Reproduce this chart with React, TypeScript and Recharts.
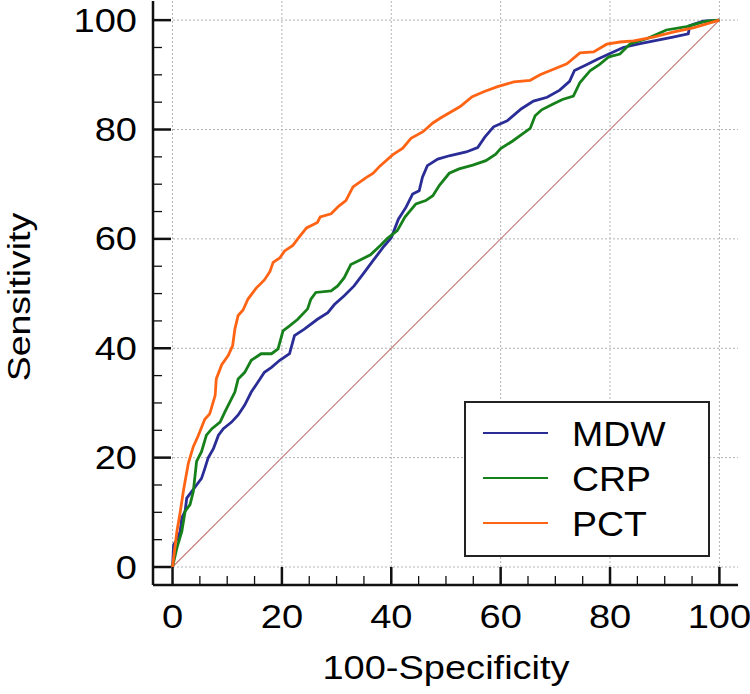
import React from 'react';
import { LineChart, Line, XAxis, YAxis, CartesianGrid, Legend } from 'recharts';

// ROC curves, values (100-Specificity vs Sensitivity)
const mdwFpr = [0, 0.2, 0.8, 1.4, 1.7, 2.3, 2.6, 3.5, 4.4, 5.3, 5.9, 6.5, 7.5, 8.4, 9.3, 10.8, 12, 13.2, 14.4, 15.6, 16.8, 18.1, 19.6, 21.4, 22.3, 24.1, 26.5, 28.4, 29.6, 31.4, 33.2, 35, 36.8, 38.7, 40, 41.3, 42.7, 43.9, 45.1, 45.7, 46.6, 48.5, 50.6, 53.7, 55.8, 57.1, 58.7, 61.2, 63.8, 66, 68.5, 70.8, 72.6, 73.5, 75.6, 77.8, 80, 82.4, 85.5, 88.5, 91.5, 94.3, 94.6, 97, 100];
const mdwTpr = [0, 4.1, 5, 6.5, 9, 10.2, 12.6, 13.8, 15, 16.2, 18, 19.9, 21.7, 24.1, 25.3, 26.5, 27.8, 29.6, 32, 33.8, 35.6, 36.5, 37.8, 39, 42.3, 43.5, 45.3, 46.5, 48, 49.6, 51.4, 53.8, 56.2, 58.7, 60.2, 63.6, 65.8, 68.2, 68.8, 71.3, 73.4, 74.6, 75.2, 75.9, 76.7, 78.6, 80.5, 81.6, 83.8, 85.2, 85.9, 87.2, 88.8, 90.8, 91.8, 92.9, 93.9, 95, 95.7, 96.3, 96.9, 97.5, 99, 99.8, 100];

const crpFpr = [0, 0.8, 1.7, 2.3, 3.2, 3.8, 4.4, 5.3, 6.2, 7.2, 8.7, 9.6, 10.5, 11.4, 12, 13.2, 14.4, 16.2, 18.1, 19.3, 20.2, 21.4, 22.9, 24.7, 25.3, 26.2, 29, 30.2, 31.4, 32.6, 34.4, 36.2, 38.1, 39.3, 41.1, 42.5, 44.5, 46.3, 47.6, 48.8, 50.6, 52.4, 54.9, 57.3, 59.1, 60, 62.2, 64, 65.4, 66.3, 67.5, 69.5, 71.3, 73.3, 74.5, 76.4, 78.1, 79.8, 81.8, 83.7, 86.7, 90.3, 94, 97.6, 100];
const crpTpr = [0, 3.5, 6.5, 10.2, 11.4, 13.8, 19.3, 21.1, 24.1, 25.3, 26.5, 28.4, 30.2, 32, 34.4, 35.6, 37.8, 39, 39, 39.9, 43.2, 44.1, 45.3, 47.2, 49, 50.2, 50.5, 51.4, 52.9, 55.3, 56.2, 57.1, 58.9, 60.1, 61.5, 64, 66.4, 67, 67.9, 69.8, 72, 72.8, 73.5, 74.3, 75.5, 76.5, 77.9, 79.2, 80.2, 82.5, 83.6, 84.6, 85.5, 86.1, 88.6, 90.8, 91.9, 93.3, 93.8, 95.7, 96.6, 98.2, 98.8, 99.8, 100];

const pctFpr = [0, 0.8, 1.4, 2, 2.9, 3.8, 4.7, 5.9, 6.8, 7.8, 8, 9, 10.2, 11, 11.4, 12, 12.9, 13.8, 15.3, 16.8, 17.8, 18.4, 19.6, 20.5, 22, 22.9, 24.5, 26.5, 27, 29, 30.4, 31.7, 33, 35.4, 36.7, 37.9, 40.3, 42.1, 43.6, 45.8, 47.6, 49, 52.6, 54.8, 56.9, 59.3, 62.4, 65.4, 67.2, 69.1, 72.1, 74.5, 77, 79.4, 81.8, 84.3, 87.9, 91.5, 95.2, 100];
const pctTpr = [0, 6.5, 10, 14, 19, 22, 24, 27, 28, 31.4, 34.4, 37, 38.7, 40.5, 43.5, 46, 47, 49, 51, 52.5, 54, 55.7, 56.5, 57.8, 58.8, 60, 62, 63, 64, 64.6, 66, 67, 69.5, 71.2, 72, 73.3, 75.4, 76.6, 78.4, 79.6, 81.2, 82.1, 84.2, 86, 86.9, 87.8, 88.7, 89, 90, 90.8, 92, 94, 94.2, 95.6, 96, 96.2, 96.9, 97.8, 98.6, 100];

const diagFpr = [0, 100];
const diagTpr = [0, 100];

const majorTicks = [0, 20, 40, 60, 80, 100];
const allTicks = [0, 5, 10, 15, 20, 25, 30, 35, 40, 45, 50, 55, 60, 65, 70, 75, 80, 85, 90, 95, 100];

const toPoints = (xs: number[], ys: number[]) => xs.map((x, i) => ({ x, y: ys[i] }));

const series = [
  { name: 'MDW', color: '#2a2d96', data: toPoints(mdwFpr, mdwTpr) },
  { name: 'CRP', color: '#16801a', data: toPoints(crpFpr, crpTpr) },
  { name: 'PCT', color: '#ff6414', data: toPoints(pctFpr, pctTpr) },
];

const FONT = '"Liberation Sans", Arial, sans-serif';
// the source renders its Arial-like text about 17% wider than normal
const WIDEN = 1.17;

const Txt = ({ x, y, size, anchor = 'start', rotate = 0, sx = WIDEN, children }: any) => (
  <text
    transform={`translate(${x} ${y}) rotate(${rotate}) scale(${sx} 1)`}
    textAnchor={anchor}
    fontSize={size}
    fontFamily={FONT}
    fill="#000"
  >
    {children}
  </text>
);

const XTick = (props: any) => {
  const { x, y, payload } = props;
  const major = payload.value % 20 === 0;
  return (
    <g>
      <line x1={x} x2={x} y1={y} y2={y - (major ? 18 : 9)} stroke="#111" strokeWidth={major ? 2.5 : 1.3} />
      {major && (
        <Txt x={x} y={y + 43} size={32.5} anchor="middle">
          {payload.value}
        </Txt>
      )}
    </g>
  );
};

const YTick = (props: any) => {
  const { x, y, payload } = props;
  const major = payload.value % 20 === 0;
  return (
    <g>
      <line x1={x} x2={x + (major ? 18 : 9)} y1={y} y2={y} stroke="#111" strokeWidth={major ? 2.5 : 1.3} />
      {major && (
        <Txt x={x - 16} y={y + 11.6} size={32.5} anchor="end">
          {payload.value}
        </Txt>
      )}
    </g>
  );
};

const LegendBox = () => (
  <svg width={246} height={156} style={{ display: 'block' }}>
    <rect x={1} y={1} width={244} height={154} fill="#fff" stroke="#222" strokeWidth={2} />
    {series.map((s, i) => (
      <g key={s.name}>
        <line x1={19} x2={84} y1={32 + i * 45} y2={32 + i * 45} stroke={s.color} strokeWidth={2} />
        <Txt x={108} y={45 + i * 45} size={35} sx={1.07}>
          {s.name}
        </Txt>
      </g>
    ))}
  </svg>
);

export default function App() {
  return (
    <div style={{ position: 'absolute', left: 0, top: 0, width: 750, height: 694, background: '#fff' }}>
      <LineChart width={750} height={694} margin={{ top: 1, right: 12, left: 0, bottom: 0 }}>
        <CartesianGrid
          stroke="#b4b4b4"
          strokeDasharray="2 2"
          verticalValues={majorTicks}
          horizontalValues={majorTicks}
        />
        <XAxis
          type="number"
          dataKey="x"
          domain={[-3.57, 103.4]}
          ticks={allTicks}
          interval={0}
          height={109}
          tickSize={0}
          tickMargin={0}
          tickLine={false}
          axisLine={{ stroke: '#111', strokeWidth: 2.5 }}
          tick={<XTick />}
          allowDataOverflow
        />
        <YAxis
          type="number"
          dataKey="y"
          domain={[-3.29, 103.5]}
          ticks={allTicks}
          interval={0}
          width={153}
          tickSize={0}
          tickMargin={0}
          tickLine={false}
          axisLine={{ stroke: '#111', strokeWidth: 2.5 }}
          tick={<YTick />}
          allowDataOverflow
        />
        <Txt x={446} y={679} size={32.5} anchor="middle">
          100-Specificity
        </Txt>
        <Txt x={29.5} y={297} size={32} anchor="middle" rotate={-90}>
          Sensitivity
        </Txt>
        <Line
          data={toPoints(diagFpr, diagTpr)}
          dataKey="y"
          type="linear"
          stroke="#c27878"
          strokeWidth={1.1}
          dot={false}
          activeDot={false}
          legendType="none"
          isAnimationActive={false}
        />
        {series.map((s) => (
          <Line
            key={s.name}
            data={s.data}
            dataKey="y"
            name={s.name}
            type="linear"
            stroke={s.color}
            strokeWidth={2.8}
            dot={false}
            activeDot={false}
            isAnimationActive={false}
          />
        ))}
        <Legend
          layout="vertical"
          align="center"
          verticalAlign="middle"
          content={<LegendBox />}
          wrapperStyle={{ position: 'absolute', left: 464, top: 401, width: 246, height: 156 }}
        />
      </LineChart>
    </div>
  );
}
